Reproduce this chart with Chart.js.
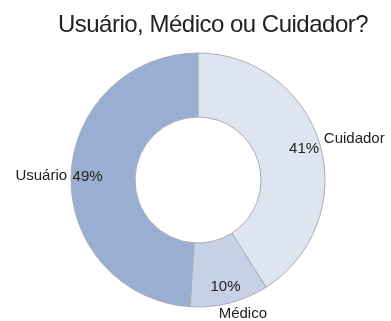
<!DOCTYPE html>
<html>
<head>
<meta charset="utf-8">
<script src="https://cdn.jsdelivr.net/npm/chart.js@4.4.1/dist/chart.umd.min.js"></script>
<style>
  html, body { margin: 0; padding: 0; background: #ffffff; }
  #wrap { width: 391px; height: 321px; }
</style>
</head>
<body>
<div id="wrap"><canvas id="chart" width="391" height="321"></canvas></div>
<script>
// Dados do gráfico
const titulo = 'Usuário, Médico ou Cuidador?';
const categorias = ['Cuidador', 'Médico', 'Usuário'];
const percentuais = [41, 10, 49];
const cores = ['#dee4f0', '#c6d1e5', '#9aaed2'];

const FONTE = '"Liberation Sans", Arial, sans-serif';

// Título desenhado à mão (fica um pouco à direita do centro, como no original)
const tituloPlugin = {
  id: 'tituloManual',
  afterDraw(chart) {
    const ctx = chart.ctx;
    ctx.save();
    ctx.fillStyle = '#222222';
    ctx.font = '24px ' + FONTE;
    if ('letterSpacing' in ctx) ctx.letterSpacing = '-0.5px';
    ctx.textAlign = 'center';
    ctx.textBaseline = 'alphabetic';
    ctx.fillText(titulo, 213, 32);
    ctx.restore();
  }
};

// Rótulos: percentual dentro da fatia e nome da categoria do lado de fora
const rotulosPlugin = {
  id: 'rotulos',
  afterDatasetsDraw(chart) {
    const ctx = chart.ctx;
    const meta = chart.getDatasetMeta(0);
    ctx.save();
    ctx.fillStyle = '#222222';
    ctx.font = '15px ' + FONTE;
    meta.data.forEach((arc, i) => {
      const p = arc.getProps(['x', 'y', 'startAngle', 'endAngle', 'outerRadius'], true);
      const meio = (p.startAngle + p.endAngle) / 2;
      const h = Math.cos(meio);
      const v = Math.sin(meio);

      // percentual
      const rp = p.outerRadius * 0.87;
      ctx.textAlign = 'center';
      ctx.textBaseline = 'middle';
      ctx.fillText(percentuais[i] + '%', p.x + rp * h, p.y + rp * v);

      // categoria
      const ro = p.outerRadius + 3;
      const px = p.x + ro * h;
      const py = p.y + ro * v;
      const w = ctx.measureText(categorias[i]).width;
      const clamp = (a) => Math.max(-1, Math.min(1, a));
      const cx = px + (w / 2 + 1) * clamp(2 * h);
      const cy = py + 8 * clamp(2 * v);
      ctx.fillText(categorias[i], cx, cy);
    });
    ctx.restore();
  }
};

new Chart(document.getElementById('chart'), {
  type: 'doughnut',
  data: {
    labels: categorias,
    datasets: [{
      data: percentuais,
      backgroundColor: cores,
      borderColor: '#a9adb8',
      borderWidth: 1,
      hoverOffset: 0
    }]
  },
  options: {
    responsive: false,
    animation: false,
    radius: 127,
    cutout: '49.6%',
    layout: { padding: { top: 39, left: 5, right: 0, bottom: 0 } },
    plugins: {
      legend: { display: false },
      tooltip: { enabled: false },
      title: { display: false }
    }
  },
  plugins: [rotulosPlugin, tituloPlugin]
});
</script>
</body>
</html>
